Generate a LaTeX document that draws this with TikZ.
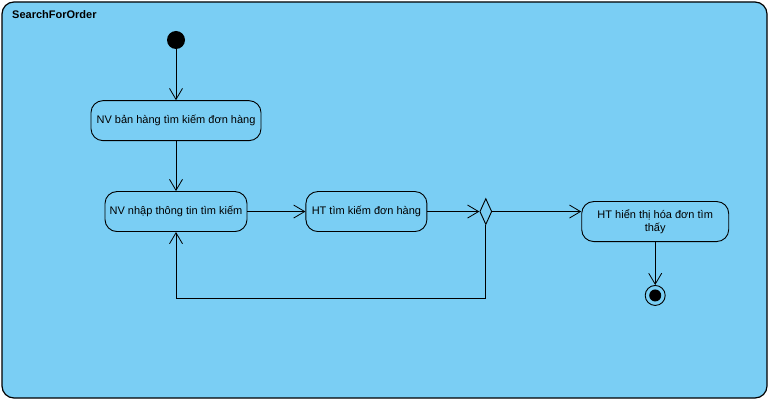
\documentclass[tikz,border=0pt]{standalone}
\usepackage{fontspec}
\setmainfont{Liberation Sans}
\usepackage{tikz}
\usetikzlibrary{arrows.meta, positioning, shapes.geometric}
\definecolor{VPblue}{HTML}{7ACEF4}

\begin{document}
\begin{tikzpicture}[x=1pt, y=-1pt, font=\fontsize{11}{13}\selectfont,
  action/.style={draw, rounded corners=12pt, fill=VPblue, line width=0.9pt,
    minimum height=40pt, inner sep=2pt, align=center},
  flow/.style={-{Straight Barb[length=11pt, width=13pt]}, line width=0.8pt}]
\useasboundingbox (0,0) rectangle (770,403);

% activity frame
\draw[rounded corners=12pt, fill=VPblue, line width=1.2pt] (2,2) rectangle (767,398);
\node[anchor=west, font=\fontsize{11}{13}\selectfont\bfseries, inner sep=0pt] (title) at (12,15) {SearchForOrder};

\node[circle, fill=black, minimum size=18pt, inner sep=0pt] (init) at (176,40) {};

\node[action, minimum width=170pt, below=51pt of init] (find) {NV bản hàng tìm kiếm đơn hàng};
\node[action, minimum width=142pt, below=50pt of find] (input) {NV nhập thông tin tìm kiếm};
\node[action, minimum width=121pt, right=58pt of input] (search) {HT tìm kiếm đơn hàng};

\node[diamond, draw, fill=VPblue, line width=0.9pt, minimum width=12pt,
  minimum height=26pt, inner sep=0pt, right=52pt of search] (dec) {};

\node[action, minimum width=147pt, right=89pt of dec, yshift=-10pt] (show) {HT hiển thị hóa đơn tìm\\thấy};

\node[circle, draw, fill=VPblue, line width=0.9pt, minimum size=20pt, inner sep=0pt,
  below=43pt of show,
  path picture={\fill[black] (path picture bounding box.center) circle (6pt);}] (fin) {};

\draw[flow] (init) -- (find);
\draw[flow] (find) -- (input);
\draw[flow] (input) -- (search);
\draw[flow] (search) -- (dec);
\draw[flow] (dec.east) -- (dec.east -| show.west);
\draw[flow] (dec.south) -- ++(0,73) -| (input.south);
\draw[flow] (show) -- (fin);
\end{tikzpicture}
\end{document}
